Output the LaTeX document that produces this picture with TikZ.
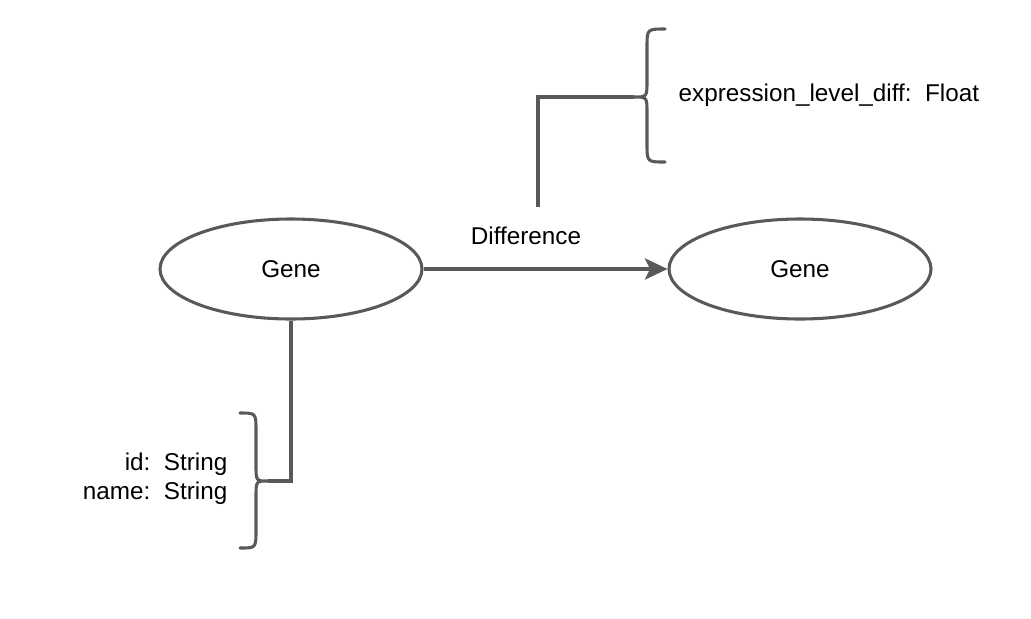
\documentclass[tikz,border=0pt]{standalone}
\usepackage{fontspec}
\setmainfont{Liberation Sans}
\usetikzlibrary{shapes,arrows.meta,positioning}
\definecolor{linegray}{HTML}{595959}

\begin{document}
\begin{tikzpicture}[x=0.75pt, y=-0.75pt,
    every node/.style={font=\fontsize{18.2}{21.8}\selectfont},
    entity/.style={ellipse, draw=linegray, line width=2.3pt, minimum width=196.5pt, minimum height=75pt},
    link/.style={draw=linegray, line width=2.3pt},
    brace/.style={draw=linegray, line width=2.3pt, line cap=round}]
    \useasboundingbox (0,0) rectangle (1031,618);

    % Entities
    \node[entity] (geneA) at (291, 269) {Gene};
    \node[entity] (geneB) at (800, 269) {Gene};

    % Relationship
    \draw[link, -{Stealth[length=17pt, width=16pt, inset=4pt]}] (geneA.east) -- (geneB.west)
        node[pos=0.42, above=13.5pt] (rel) {Difference};

    % Relationship property
    \coordinate (relfoot) at (538, 207);
    \coordinate (reltip) at (634, 97);
    \draw[link] (relfoot) |- (reltip);
    \draw[brace] (665, 29) .. controls (647, 29) .. (647, 47) -- (647, 81)
        .. controls (647, 97) .. (reltip) .. controls (647, 97) .. (647, 113)
        -- (647, 144) .. controls (647, 162) .. (665, 162);
    \node[anchor=west] (relprops) at (674, 95) {expression\_level\_diff:\ \ Float};

    % Entity properties
    \coordinate (genetip) at (268, 481);
    \draw[link] (geneA.south) |- (genetip);
    \draw[brace] (240, 413) .. controls (256, 413) .. (256, 431) -- (256, 465)
        .. controls (256, 481) .. (genetip) .. controls (256, 481) .. (256, 497)
        -- (256, 530) .. controls (256, 548) .. (240, 548);
    \node[anchor=east, align=right] (geneprops) at (232, 479) {id:\ \ String\\name:\ \ String};
\end{tikzpicture}
\end{document}
